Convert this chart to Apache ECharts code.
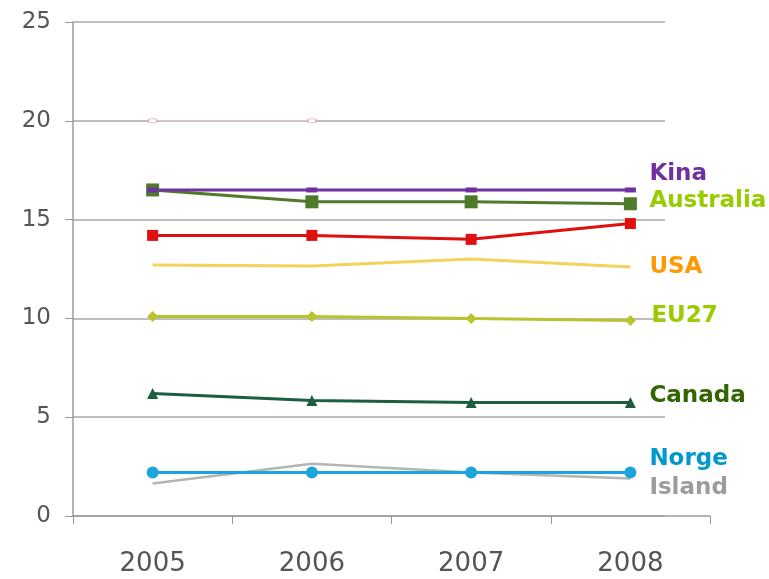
<!DOCTYPE html>
<html>
<head>
    <meta charset="utf-8">
    <title>Chart</title>
    <script src="https://cdn.jsdelivr.net/npm/echarts@6/dist/echarts.min.js"></script>
    <style>
        body { margin: 0; background: #fff; }
        #chart1 { width: 769px; height: 579px; }
    </style>
</head>
<body>
<div id="chart1"></div>
<script type="text/javascript">
    // data
    var years = ['2005', '2006', '2007', '2008'];
    var yTicks = [0, 5, 10, 15, 20, 25];
    var kina = [16.5, 16.5, 16.5, 16.5];
    var australia = [16.5, 15.9, 15.9, 15.8];
    var red = [14.2, 14.2, 14.0, 14.8];
    var usa = [12.7, 12.65, 13.0, 12.6];
    var eu27 = [10.1, 10.1, 10.0, 9.9];
    var canada = [6.2, 5.85, 5.75, 5.75];
    var norge = [2.2, 2.2, 2.2, 2.2];
    var island = [1.65, 2.65, 2.2, 1.9];
    var ghost = [20, 20, null, null];

    var myChart1 = echarts.init(document.getElementById('chart1'));

    var font = 'DejaVu Sans, Verdana, sans-serif';

    function line(name, data, color, symbol, size, lblColor, dx, dy, width) {
        return {
            name: name,
            type: 'line',
            data: data,
            xAxisIndex: 0,
            yAxisIndex: 0,
            symbol: symbol,
            symbolSize: size,
            showSymbol: symbol !== 'none',
            lineStyle: { color: color, width: width || 3 },
            itemStyle: { color: color },
            z: 5,
            endLabel: lblColor ? {
                show: true,
                formatter: name,
                color: lblColor,
                fontFamily: font,
                fontWeight: 'bold',
                fontSize: 23,
                distance: dx,
                offset: [0, dy]
            } : { show: false }
        };
    }

    myChart1.setOption({
        animation: false,
        grid: [
            { left: 73, right: 59, top: 22, bottom: 63 },
            { left: 73, right: 104, top: 22, bottom: 63 }
        ],
        xAxis: [{
            type: 'category',
            gridIndex: 0,
            data: years,
            boundaryGap: true,
            axisLine: { lineStyle: { color: '#9a9a9a', width: 1.5 } },
            axisTick: { show: true, length: 8, lineStyle: { color: '#9a9a9a' } },
            axisLabel: { color: '#555', fontFamily: font, fontSize: 26, margin: 35 }
        }, {
            type: 'value',
            gridIndex: 1,
            show: false
        }],
        yAxis: [{
            type: 'value',
            gridIndex: 0,
            min: yTicks[0],
            max: yTicks[yTicks.length - 1],
            interval: 5,
            axisLine: { show: true, lineStyle: { color: '#9a9a9a', width: 1.5 } },
            axisTick: { show: true, length: 8, lineStyle: { color: '#9a9a9a' } },
            axisLabel: { color: '#555', fontFamily: font, fontSize: 23, margin: 22 },
            splitLine: { show: false }
        }, {
            type: 'value',
            gridIndex: 1,
            min: yTicks[0],
            max: yTicks[yTicks.length - 1],
            interval: 5,
            axisLine: { show: false },
            axisTick: { show: false },
            axisLabel: { show: false },
            splitLine: { show: true, lineStyle: { color: '#a8a8a8', width: 1.5 } }
        }],
        series: [
            {
                name: 'ghost',
                type: 'line',
                data: ghost,
                symbol: 'roundRect',
                symbolSize: [8, 4],
                lineStyle: { color: '#e8c8dc', width: 1 },
                itemStyle: { color: '#fff', borderColor: '#d9a8c8', borderWidth: 1 },
                z: 3
            },
            line('Island', island, '#b4b4b4', 'path://M0,-5L0,5M-5,0L5,0M-4,-4L4,4M-4,4L4,-4', 10, '#9c9c9c', 19, 10, 2.5),
            line('USA', usa, '#f2d35a', 'none', 0, '#ff9900', 19, 0),
            line('EU27', eu27, '#b8c42c', 'diamond', 11, '#99cc00', 21, -4),
            line('Canada', canada, '#1b5e40', 'triangle', 11, '#336600', 19, -6),
            line('Australia', australia, '#4e7a2a', 'rect', 13, '#99cc00', 19, -3),
            line('Kina', kina, '#7030a0', 'rect', [11, 5], '#7030a0', 19, -16),
            line('red', red, '#e01010', 'rect', 11, null, 0, 0),
            line('Norge', norge, '#1ca5d8', 'circle', 12, '#0099cc', 19, -13)
        ]
    });
</script>
</body>
</html>
